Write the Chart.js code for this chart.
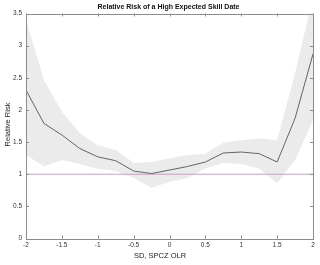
<!DOCTYPE html>
<html><head><meta charset="utf-8">
<script src="https://cdn.jsdelivr.net/npm/chart.js@4/dist/chart.umd.min.js"></script>
<style>html,body{margin:0;padding:0;background:#fff}#wrap{width:320px;height:265px}</style>
</head><body><div id="wrap"><canvas id="c" width="320" height="265"></canvas></div>
<script>
const xValues = [-2,-1.75,-1.5,-1.25,-1,-0.75,-0.5,-0.25,0,0.25,0.5,0.75,1,1.25,1.5,1.75,2];
const riskValues = [2.31,1.79,1.61,1.40,1.27,1.21,1.05,1.01,1.065,1.12,1.19,1.33,1.345,1.32,1.19,1.87,2.87];
const upperValues = [3.4,2.47,1.97,1.64,1.45,1.38,1.18,1.19,1.25,1.30,1.32,1.49,1.53,1.56,1.53,2.57,3.75];
const lowerValues = [1.30,1.12,1.22,1.16,1.08,1.05,0.94,0.79,0.88,0.94,1.09,1.18,1.16,1.09,0.86,1.22,1.84];
const refValue = 1;
const xTicks = [-2,-1.5,-1,-0.5,0,0.5,1,1.5,2];
const yTicks = [0,0.5,1,1.5,2,2.5,3,3.5];
const titleText = 'Relative Risk of a High Expected Skill Date';
const xTitle = 'SD, SPCZ OLR';
const yTitle = 'Relative Risk';

const pts = arr => xValues.map((x,i)=>({x, y: arr[i]}));
const FONT = '"Liberation Sans", Arial, sans-serif';

const boxTicks = {
  id: 'boxTicks',
  afterDraw(chart) {
    const {ctx, chartArea: a, scales} = chart;
    ctx.save();
    ctx.strokeStyle = '#8c8c8c';
    ctx.lineWidth = 1;
    ctx.strokeRect(Math.round(a.left)+0.5, Math.round(a.top)+0.5, Math.round(a.right-a.left), Math.round(a.bottom-a.top));
    const L = 3;
    ctx.beginPath();
    xTicks.forEach(v => {
      const px = Math.round(scales.x.getPixelForValue(v)) + 0.5;
      ctx.moveTo(px, a.bottom); ctx.lineTo(px, a.bottom - L);
      ctx.moveTo(px, a.top); ctx.lineTo(px, a.top + L);
    });
    yTicks.forEach(v => {
      const py = Math.round(scales.y.getPixelForValue(v)) + 0.5;
      ctx.moveTo(a.left, py); ctx.lineTo(a.left + L, py);
      ctx.moveTo(a.right, py); ctx.lineTo(a.right - L, py);
    });
    ctx.stroke();
    // titles
    ctx.textAlign = 'center';
    ctx.textBaseline = 'middle';
    ctx.fillStyle = '#111';
    ctx.font = 'bold 7px ' + FONT;
    ctx.fillText(titleText, (a.left + a.right) / 2 - 1, 7.5);
    ctx.fillStyle = '#222';
    ctx.font = '7.5px ' + FONT;
    ctx.fillText(xTitle, (a.left + a.right) / 2 - 9.5, 255.5);
    ctx.translate(7.5, (a.top + a.bottom) / 2 - 1.5);
    ctx.rotate(-Math.PI / 2);
    ctx.fillText(yTitle, 0, 0);
    ctx.restore();
  }
};

new Chart(document.getElementById('c'), {
  type: 'line',
  data: {
    datasets: [
      {label:'upper', data: pts(upperValues), borderWidth:0, pointRadius:0, backgroundColor:'#ebebeb', fill:'+1', tension:0, order:3},
      {label:'lower', data: pts(lowerValues), borderWidth:0, pointRadius:0, backgroundColor:'#ebebeb', fill:false, tension:0, order:3},
      {label:'ref', data: xValues.map(x=>({x, y: refValue})), borderColor:'#c4a0c4', borderWidth:1, pointRadius:0, fill:false, order:2},
      {label:'risk', data: pts(riskValues), borderColor:'#555555', borderWidth:0.9, pointRadius:0, fill:false, tension:0, order:1}
    ]
  },
  options: {
    responsive:false, animation:false, devicePixelRatio:1,
    layout:{padding:{left:0, right:7, top:13.5, bottom:0}},
    plugins:{ legend:{display:false}, tooltip:{enabled:false}, title:{display:false} },
    scales:{
      x:{type:'linear', min:-2, max:2,
        afterBuildTicks(s){ s.ticks = xTicks.map(v=>({value:v})); },
        afterFit(s){ s.height = 26.5; },
        grid:{display:false, drawTicks:false}, border:{display:false},
        ticks:{padding:3, color:'#333', font:{family:FONT, size:6.5}, maxRotation:0, callback:v=>String(v)}
      },
      y:{type:'linear', min:0, max:3.5,
        afterBuildTicks(s){ s.ticks = yTicks.map(v=>({value:v})); },
        afterFit(s){ s.width = 26; },
        grid:{display:false, drawTicks:false}, border:{display:false},
        ticks:{padding:4, color:'#333', font:{family:FONT, size:6.5}, callback:v=>String(v)}
      }
    }
  },
  plugins:[boxTicks]
});
</script></body></html>
